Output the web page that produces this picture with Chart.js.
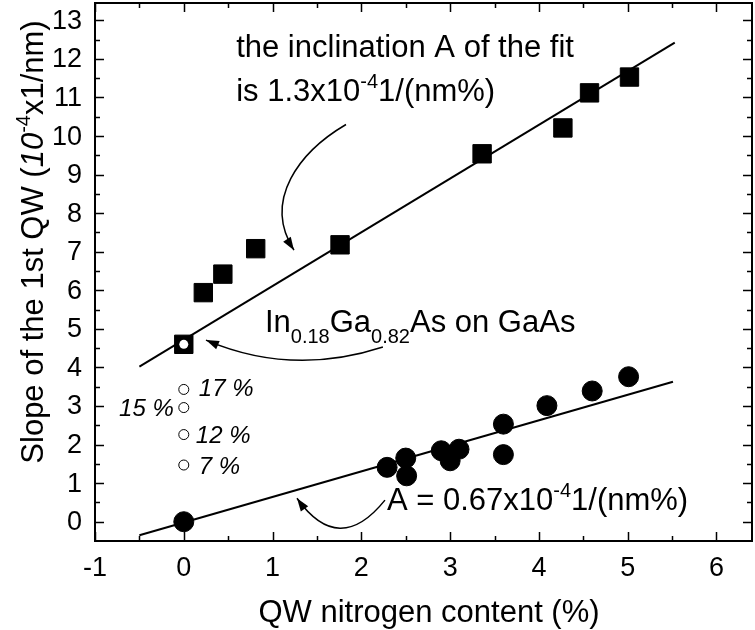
<!DOCTYPE html>
<html>
<head>
<meta charset="utf-8">
<script src="https://cdn.jsdelivr.net/npm/chart.js@4.4.1/dist/chart.umd.min.js"></script>
<style>
  html, body { margin: 0; padding: 0; background: #fff; }
  #wrap { width: 755px; height: 630px; }
</style>
</head>
<body>
<div id="wrap"><canvas id="slopeChart" width="755" height="630"></canvas></div>
<script>
// --- data ---
const xTickValues = [-1, 0, 1, 2, 3, 4, 5, 6];
const xTickLabels = ["-1", "0", "1", "2", "3", "4", "5", "6"];
const yTickValues = [0, 1, 2, 3, 4, 5, 6, 7, 8, 9, 10, 11, 12, 13];
const yTickLabels = ["0", "1", "2", "3", "4", "5", "6", "7", "8", "9", "10", "11", "12", "13"];

// filled squares (upper series)
const squareX = [0.22, 0.44, 0.81, 1.76, 3.36, 4.27, 4.57, 5.02];
const squareY = [5.94, 6.42, 7.08, 7.18, 9.54, 10.21, 11.12, 11.53];

// In0.18Ga0.82As on GaAs reference (hollow square)
const refX = [0];
const refY = [4.6];

// filled circles (lower series)
const circleX = [0, 2.29, 2.5, 2.51, 2.9, 3.0, 3.1, 3.6, 3.6, 4.09, 4.6, 5.01];
const circleY = [0, 1.41, 1.65, 1.19, 1.84, 1.58, 1.88, 2.53, 1.74, 3.01, 3.39, 3.76];

// small open circles at 0 % N
const openX = [0, 0, 0, 0];
const openY = [3.43, 2.96, 2.26, 1.47];
const openLabels = ["17 %", "15 %", "12 %", "7 %"];

// linear fits (end points)
const upperFitX = [-0.5, 5.53];
const upperFitY = [4.02, 12.42];
const lowerFitX = [-0.5, 5.51];
const lowerFitY = [-0.35, 3.63];

const FONT = '"Liberation Sans", Arial, Helvetica, sans-serif';

function pts(xs, ys) {
  return xs.map((x, i) => ({ x, y: ys[i] }));
}

// label placement for the open circles (offsets in px)
const openLabelStyle = [
  { dx: 15, dy: 7, align: "left" },
  { dx: -10, dy: 8, align: "right" },
  { dx: 12, dy: 8, align: "left" },
  { dx: 15, dy: 9, align: "left" },
];

// annotation anchors in data units
const notes = {
  fitLine1: { x: 0.59, y: 12.04 },
  fitLine2: { x: 0.59, y: 10.91 },
  fitArrow: [[1.827, 10.3], [1.309, 9.6], [0.881, 8.34], [1.241, 7.04]],
  refText: { x: 0.914, y: 4.93 },
  refArrow: [[2.243, 4.53], [1.218, 3.76], [0.25, 4.71]],
  lowText: { x: 2.288, y: 0.3 },
  lowArrow: [[2.266, 0.56], [1.748, -0.92], [1.275, 0.61]],
};

function drawRich(ctx, x, y, parts) {
  let cx = x;
  parts.forEach((p) => {
    ctx.font = p.font;
    ctx.fillText(p.text, cx, y + (p.dy || 0));
    cx += ctx.measureText(p.text).width;
  });
  return cx - x;
}

function richWidth(ctx, parts) {
  let w = 0;
  parts.forEach((p) => {
    ctx.font = p.font;
    w += ctx.measureText(p.text).width;
  });
  return w;
}

function drawArrow(ctx, p) {
  ctx.beginPath();
  ctx.moveTo(p[0][0], p[0][1]);
  if (p.length === 4) {
    ctx.bezierCurveTo(p[1][0], p[1][1], p[2][0], p[2][1], p[3][0], p[3][1]);
  } else {
    ctx.quadraticCurveTo(p[1][0], p[1][1], p[2][0], p[2][1]);
  }
  ctx.stroke();
  const tip = p[p.length - 1];
  const prev = p[p.length - 2];
  const ang = Math.atan2(tip[1] - prev[1], tip[0] - prev[0]);
  const len = 13, half = 4.5;
  ctx.beginPath();
  ctx.moveTo(tip[0], tip[1]);
  ctx.lineTo(tip[0] - len * Math.cos(ang) + half * Math.sin(ang), tip[1] - len * Math.sin(ang) - half * Math.cos(ang));
  ctx.lineTo(tip[0] - len * Math.cos(ang) - half * Math.sin(ang), tip[1] - len * Math.sin(ang) + half * Math.cos(ang));
  ctx.closePath();
  ctx.fill();
}

const decorations = {
  id: "decorations",
  afterDatasetsDraw(chart) {
    const { ctx, chartArea: a, scales } = chart;
    const xs = scales.x, ys = scales.y;
    const px = (v) => xs.getPixelForValue(v);
    const py = (v) => ys.getPixelForValue(v);
    const toPx = (arr) => arr.map(([x, y]) => [px(x), py(y)]);

    ctx.save();
    ctx.strokeStyle = "#000";
    ctx.fillStyle = "#000";

    // frame
    ctx.lineWidth = 2;
    ctx.strokeRect(a.left, a.top, a.right - a.left, a.bottom - a.top);

    // inward ticks on all four sides
    ctx.lineWidth = 1.5;
    const major = 9, minor = 5;
    ctx.beginPath();
    for (let v = -1; v <= xs.max + 1e-9; v += 0.5) {
      const x = Math.round(px(v)) + 0.5;
      const len = Number.isInteger(v) ? major : minor;
      ctx.moveTo(x, a.bottom); ctx.lineTo(x, a.bottom - len);
      ctx.moveTo(x, a.top); ctx.lineTo(x, a.top + len);
    }
    for (let v = 0; v <= ys.max + 1e-9; v += 0.5) {
      const y = Math.round(py(v)) + 0.5;
      const len = Number.isInteger(v) ? major : minor;
      ctx.moveTo(a.left, y); ctx.lineTo(a.left + len, y);
      ctx.moveTo(a.right, y); ctx.lineTo(a.right - len, y);
    }
    ctx.stroke();

    // tick labels
    ctx.font = `27px ${FONT}`;
    ctx.textAlign = "center";
    ctx.textBaseline = "alphabetic";
    xTickValues.forEach((v, i) => ctx.fillText(xTickLabels[i], px(v), 576));
    ctx.textAlign = "right";
    ctx.textBaseline = "middle";
    yTickValues.forEach((v, i) => ctx.fillText(yTickLabels[i], 82, py(v) + 1));

    // axis titles
    ctx.textAlign = "center";
    ctx.textBaseline = "alphabetic";
    ctx.font = `31px ${FONT}`;
    ctx.fillText("QW nitrogen content (%)", 429, 622);

    ctx.textAlign = "left";
    const yTitle = [
      { text: "Slope of the 1st QW (", font: `31px ${FONT}` },
      { text: "10", font: `italic 31px ${FONT}` },
      { text: "-4", font: `20px ${FONT}`, dy: -13 },
      { text: "x1/nm)", font: `31px ${FONT}` },
    ];
    ctx.save();
    ctx.translate(43, 242);
    ctx.rotate(-Math.PI / 2);
    drawRich(ctx, -richWidth(ctx, yTitle) / 2, 0, yTitle);
    ctx.restore();

    // labels of the open circles
    ctx.font = `italic 24px ${FONT}`;
    openY.forEach((v, i) => {
      const s = openLabelStyle[i];
      ctx.textAlign = s.align;
      ctx.fillText(openLabels[i], px(openX[i]) + s.dx, py(v) + s.dy);
    });
    ctx.textAlign = "left";

    // annotations
    const big = `31px ${FONT}`, small = `20px ${FONT}`;
    drawRich(ctx, px(notes.fitLine1.x), py(notes.fitLine1.y), [{ text: "the inclination A of the fit", font: big }]);
    drawRich(ctx, px(notes.fitLine2.x), py(notes.fitLine2.y), [
      { text: "is 1.3x10", font: big },
      { text: "-4", font: small, dy: -13 },
      { text: "1/(nm%)", font: big },
    ]);
    drawRich(ctx, px(notes.refText.x), py(notes.refText.y), [
      { text: "In", font: big },
      { text: "0.18", font: small, dy: 11 },
      { text: "Ga", font: big },
      { text: "0.82", font: small, dy: 11 },
      { text: "As on GaAs", font: big },
    ]);
    drawRich(ctx, px(notes.lowText.x), py(notes.lowText.y), [
      { text: "A = 0.67x10", font: big },
      { text: "-4", font: small, dy: -13 },
      { text: "1/(nm%)", font: big },
    ]);

    ctx.lineWidth = 1.5;
    drawArrow(ctx, toPx(notes.fitArrow));
    drawArrow(ctx, toPx(notes.refArrow));
    drawArrow(ctx, toPx(notes.lowArrow));

    ctx.restore();
  },
};

new Chart(document.getElementById("slopeChart"), {
  type: "scatter",
  data: {
    datasets: [
      {
        data: pts(openX, openY),
        pointStyle: "circle",
        pointRadius: 5,
        backgroundColor: "#fff",
        borderColor: "#000",
        borderWidth: 1,
      },
      {
        data: pts(refX, refY),
        pointStyle: "circle",
        pointRadius: 4.5,
        backgroundColor: "#fff",
        borderColor: "#fff",
        borderWidth: 0,
      },
      {
        data: pts(refX, refY),
        pointStyle: "rect",
        pointRadius: 13,
        backgroundColor: "#000",
        borderColor: "#000",
        borderWidth: 1,
      },
      {
        data: pts(squareX, squareY),
        pointStyle: "rect",
        pointRadius: 13,
        backgroundColor: "#000",
        borderColor: "#000",
        borderWidth: 1,
      },
      {
        data: pts(circleX, circleY),
        pointStyle: "circle",
        pointRadius: 10,
        backgroundColor: "#000",
        borderColor: "#000",
        borderWidth: 1,
      },
      {
        data: pts(upperFitX, upperFitY),
        showLine: true,
        pointRadius: 0,
        borderColor: "#000",
        borderWidth: 2,
      },
      {
        data: pts(lowerFitX, lowerFitY),
        showLine: true,
        pointRadius: 0,
        borderColor: "#000",
        borderWidth: 2,
      },
    ],
  },
  options: {
    responsive: false,
    animation: false,
    devicePixelRatio: 1,
    layout: { autoPadding: false, padding: { top: 3, right: 3, left: 0, bottom: 0 } },
    plugins: { legend: { display: false }, tooltip: { enabled: false } },
    scales: {
      x: {
        type: "linear",
        min: -1,
        max: 6.4,
        ticks: { display: false },
        grid: { display: false },
        border: { display: false },
        afterFit: (s) => { s.height = 89; },
      },
      y: {
        type: "linear",
        min: -0.5,
        max: 13.45,
        ticks: { display: false },
        grid: { display: false },
        border: { display: false },
        afterFit: (s) => { s.width = 95; },
      },
    },
  },
  plugins: [decorations],
});
</script>
</body>
</html>
